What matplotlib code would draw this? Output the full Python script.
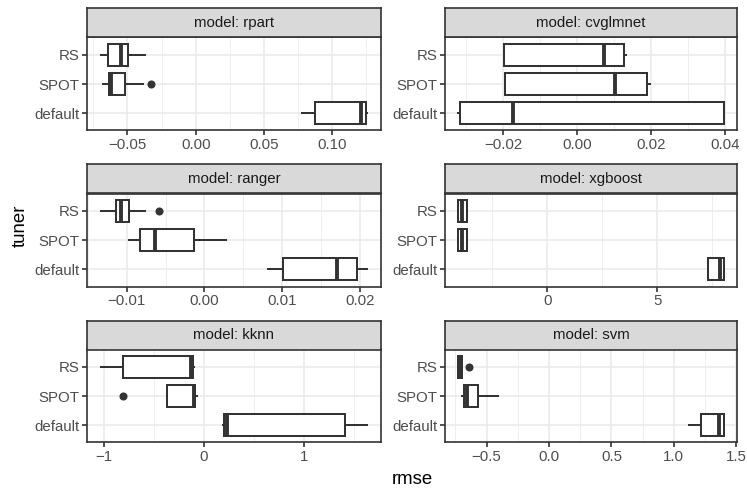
import matplotlib
matplotlib.use("Agg")
import matplotlib.pyplot as plt
from matplotlib.ticker import AutoMinorLocator, FixedLocator

plt.rcParams["font.family"] = ["Liberation Sans", "DejaVu Sans"]

tuners = ["default", "SPOT", "RS"]
models = ["rpart", "cvglmnet", "ranger", "xgboost", "kknn", "svm"]

# per model, per tuner (default, SPOT, RS): whislo, q1, median, q3, whishi
rpart_stats = [
    [0.0780, 0.0873, 0.1210, 0.1250, 0.1255],
    [-0.0676, -0.0635, -0.0620, -0.0515, -0.0388],
    [-0.0696, -0.0640, -0.0550, -0.0493, -0.0371],
]
rpart_fliers = [[], [-0.0327], []]

cvglmnet_stats = [
    [-0.0322, -0.0317, -0.0173, 0.0397, 0.0397],
    [-0.0196, -0.0195, 0.0102, 0.0188, 0.0196],
    [-0.0199, -0.0198, 0.0073, 0.0126, 0.0132],
]
cvglmnet_fliers = [[], [], []]

ranger_stats = [
    [0.0082, 0.01015, 0.01707, 0.01966, 0.02096],
    [-0.0097, -0.00825, -0.0064, -0.0014, 0.0028],
    [-0.01337, -0.01145, -0.0108, -0.0097, -0.0076],
]
ranger_fliers = [[], [], [-0.00586]]

xgboost_stats = [
    [7.31, 7.31, 7.85, 8.03, 8.03],
    [-4.05, -4.05, -3.90, -3.64, -3.64],
    [-4.05, -4.05, -3.90, -3.64, -3.64],
]
xgboost_fliers = [[], [], []]

kknn_stats = [
    [0.194, 0.204, 0.230, 1.407, 1.632],
    [-0.368, -0.368, -0.097, -0.087, -0.073],
    [-1.035, -0.810, -0.134, -0.113, -0.100],
]
kknn_fliers = [[], [-0.816], []]

svm_stats = [
    [1.124, 1.214, 1.363, 1.400, 1.400],
    [-0.698, -0.685, -0.658, -0.571, -0.411],
    [-0.727, -0.727, -0.712, -0.700, -0.700],
]
svm_fliers = [[], [], [-0.645]]

major_ticks = {
    "rpart": [-0.05, 0.00, 0.05, 0.10],
    "cvglmnet": [-0.02, 0.00, 0.02, 0.04],
    "ranger": [-0.01, 0.00, 0.01, 0.02],
    "xgboost": [0, 5],
    "kknn": [-1, 0, 1],
    "svm": [-0.5, 0.0, 0.5, 1.0, 1.5],
}
tick_fmt = {"rpart": "{:.2f}", "cvglmnet": "{:.2f}", "ranger": "{:.2f}",
            "xgboost": "{:.0f}", "kknn": "{:.0f}", "svm": "{:.1f}"}

all_stats = {
    "rpart": (rpart_stats, rpart_fliers),
    "cvglmnet": (cvglmnet_stats, cvglmnet_fliers),
    "ranger": (ranger_stats, ranger_fliers),
    "xgboost": (xgboost_stats, xgboost_fliers),
    "kknn": (kknn_stats, kknn_fliers),
    "svm": (svm_stats, svm_fliers),
}

W, H = 747, 498
fig = plt.figure(figsize=(W / 100, H / 100), dpi=100)

dark = "#333333"
col_x = [(87.3, 293.2), (445.0, 292.0)]
row_top = [8.5, 164.5, 320.5]
strip_h, panel_h = 29.0, 93.0

for i, m in enumerate(models):
    r, c = divmod(i, 2)
    x0, w = col_x[c]
    top = row_top[r]
    ax = fig.add_axes([x0 / W, 1 - (top + strip_h + panel_h) / H, w / W, panel_h / H])
    sax = fig.add_axes([x0 / W, 1 - (top + strip_h) / H, w / W, strip_h / H])
    sax.set_facecolor("#D9D9D9")
    sax.set_xticks([])
    sax.set_yticks([])
    for s in sax.spines.values():
        s.set_color(dark)
        s.set_linewidth(1.2)
    sax.text(0.5, 0.5, f"model: {m}", ha="center", va="center",
             fontsize=10.8, color="#1A1A1A", transform=sax.transAxes)

    stats, fliers = all_stats[m]
    bxp_stats = []
    for t, st, fl in zip(tuners, stats, fliers):
        bxp_stats.append({"label": t, "whislo": st[0], "q1": st[1], "med": st[2],
                          "q3": st[3], "whishi": st[4], "fliers": fl})
    ax.margins(x=0.05)
    ax.bxp(bxp_stats, positions=[1, 2, 3], widths=0.75, orientation="horizontal",
           showcaps=False, patch_artist=True,
           boxprops=dict(facecolor="white", edgecolor=dark, linewidth=1.45),
           medianprops=dict(color=dark, linewidth=2.8, solid_capstyle="butt"),
           whiskerprops=dict(color=dark, linewidth=1.45),
           flierprops=dict(marker="o", markerfacecolor=dark, markeredgecolor=dark,
                           markersize=4.8, linestyle="none"),
           zorder=3)
    ax.autoscale_view()
    ax.set_ylim(0.4, 3.6)
    ax.set_yticks([1, 2, 3])
    ax.set_yticklabels(tuners)
    ax.xaxis.set_major_locator(FixedLocator(major_ticks[m]))
    ax.set_xticklabels([tick_fmt[m].format(v).replace("-", "\u2212") for v in major_ticks[m]])
    ax.xaxis.set_minor_locator(AutoMinorLocator(2))
    ax.set_axisbelow(True)
    ax.grid(which="major", color="#EBEBEB", linewidth=1.2)
    ax.grid(which="minor", axis="x", color="#EBEBEB", linewidth=0.6)
    ax.tick_params(which="major", length=3.4, width=1.2, color=dark, pad=2.2,
                   labelsize=10.8, labelcolor="#4D4D4D")
    ax.tick_params(which="minor", length=0)
    for s in ax.spines.values():
        s.set_color(dark)
        s.set_linewidth(1.2)

fig.text(412 / W, 1 - 479 / H, "rmse", ha="center", va="center", fontsize=13.4)
fig.text(20 / W, 1 - 226 / H, "tuner", ha="center", va="center", fontsize=13.4,
         rotation=90)

fig.savefig("out.png", dpi=100)
